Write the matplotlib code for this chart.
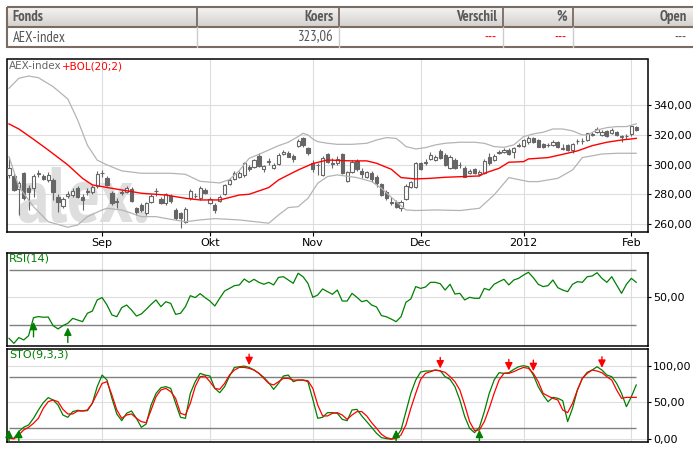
import numpy as np
import pandas as pd
import matplotlib
matplotlib.use('Agg')
import matplotlib.pyplot as plt
from matplotlib.patches import Rectangle
from matplotlib.colors import LinearSegmentedColormap

plt.rcParams['font.family'] = ['DejaVu Sans']

# ---- data (5 Aug 2011 - 2 Feb 2012) ----
opens = [293.1, 292.6, 283.7, 294.2, 284.6, 284.6, 294.0, 292.6, 289.7, 289.7,
         278.5, 272.5, 279.0, 279.7, 284.6, 278.5, 281.5, 281.9, 285.7, 294.2,
         291.3, 280.8, 275.5, 280.8, 281.9, 283.5, 270.7, 273.0, 267.4, 275.2,
         282.1, 276.7, 274.1, 279.2, 269.6, 267.4, 261.8, 277.4, 278.8, 277.4,
         283.0, 274.5, 273.0, 275.6, 280.1, 286.8, 290.4, 292.0, 293.1, 298.6,
         298.6, 306.0, 296.9, 301.8, 297.5, 300.2, 307.1, 307.8, 305.8, 312.5,
         317.6, 311.4, 301.3, 299.6, 293.1, 306.9, 300.7, 300.9, 306.9, 289.3,
         295.3, 302.5, 295.7, 292.0, 294.2, 292.0, 286.8, 281.9, 274.2, 275.2,
         271.2, 276.8, 284.8, 285.2, 300.9, 301.3, 303.6, 303.1, 309.2, 306.5,
         297.5, 303.1, 299.6, 297.5, 294.2, 296.9, 293.5, 294.2, 305.4, 303.1,
         308.0, 308.7, 309.8, 308.3, 312.5, 312.7, 315.0, 317.6, 316.5, 313.6,
         313.0, 313.2, 315.4, 310.7, 313.2, 309.8, 315.6, 315.6, 316.5, 320.1,
         321.7, 319.9, 322.6, 321.0, 322.1, 318.6, 319.0, 320.3, 325.5]
highs = [305.4, 294.5, 289.0, 295.0, 286.0, 293.5, 296.4, 293.5, 295.3, 291.0,
         280.0, 278.5, 282.0, 284.0, 285.5, 280.0, 284.0, 286.5, 296.0, 296.4,
         292.5, 282.0, 277.4, 283.0, 285.5, 285.0, 271.8, 274.5, 275.0, 280.5,
         284.6, 278.0, 281.0, 280.5, 271.0, 268.5, 271.5, 283.5, 281.0, 285.5,
         284.0, 278.0, 274.0, 279.5, 287.0, 291.0, 295.5, 295.5, 302.0, 299.5,
         304.0, 307.5, 300.0, 304.2, 301.0, 307.5, 310.0, 309.0, 307.0, 317.0,
         318.5, 312.0, 303.0, 300.9, 305.5, 307.5, 304.2, 305.5, 307.5, 296.0,
         303.0, 303.5, 297.5, 296.0, 295.5, 293.0, 288.0, 283.0, 278.5, 276.5,
         276.5, 287.0, 289.0, 302.0, 302.0, 303.5, 308.5, 306.5, 310.5, 308.0,
         306.5, 304.5, 301.5, 299.0, 297.0, 298.0, 296.5, 303.5, 307.5, 307.0,
         309.5, 311.0, 311.0, 312.0, 314.5, 317.5, 319.5, 318.5, 317.5, 314.5,
         314.5, 316.5, 316.0, 313.5, 314.0, 314.5, 317.5, 318.0, 321.5, 322.0,
         325.0, 323.0, 323.5, 324.5, 322.5, 320.0, 320.5, 326.5, 326.0]
lows = [290.8, 282.0, 266.0, 276.0, 269.6, 278.5, 292.0, 289.5, 288.5, 276.3,
        268.5, 271.0, 277.5, 278.5, 277.5, 269.6, 279.5, 280.5, 284.5, 292.0,
        285.5, 273.0, 270.7, 279.5, 281.0, 275.0, 266.2, 268.5, 266.5, 274.5,
        279.2, 273.5, 273.0, 274.5, 263.0, 257.3, 261.0, 276.5, 277.5, 276.5,
        280.0, 273.5, 267.4, 275.0, 279.5, 286.0, 289.5, 291.0, 292.0, 296.0,
        298.0, 298.5, 295.3, 299.8, 297.0, 299.5, 306.5, 305.0, 301.5, 311.5,
        311.5, 306.5, 295.0, 293.1, 292.5, 301.0, 297.5, 300.0, 293.5, 288.5,
        294.5, 296.0, 291.0, 291.0, 288.5, 285.0, 279.0, 276.5, 273.0, 271.0,
        268.9, 276.0, 284.0, 284.5, 296.5, 300.0, 303.0, 302.5, 303.5, 299.0,
        297.0, 297.0, 298.0, 291.5, 293.5, 293.5, 292.5, 293.5, 300.0, 302.5,
        307.0, 308.0, 306.5, 304.5, 311.5, 312.0, 314.0, 314.5, 311.5, 311.0,
        312.0, 312.5, 311.0, 310.0, 309.0, 307.5, 314.0, 314.0, 316.0, 319.0,
        321.0, 319.5, 318.5, 320.5, 319.5, 315.4, 317.5, 319.5, 322.5]
closes = [297.5, 283.0, 287.5, 277.4, 281.9, 292.4, 294.4, 290.4, 293.1, 281.9,
          274.7, 277.0, 280.1, 282.3, 278.5, 276.3, 282.0, 285.2, 293.7, 294.6,
          286.4, 274.1, 275.0, 281.9, 284.1, 275.6, 268.5, 269.6, 274.1, 279.2,
          282.5, 274.5, 280.1, 275.6, 264.0, 264.0, 270.3, 282.3, 279.2, 284.1,
          280.8, 276.7, 269.6, 278.5, 286.4, 289.7, 294.2, 294.2, 300.9, 297.1,
          303.1, 299.3, 299.1, 302.2, 299.8, 306.5, 308.7, 305.4, 303.8, 315.9,
          313.2, 307.6, 296.9, 300.0, 304.7, 302.0, 301.1, 303.8, 294.2, 294.9,
          302.0, 297.1, 293.5, 294.9, 290.4, 287.5, 279.7, 277.4, 274.6, 271.8,
          275.2, 285.7, 288.1, 300.9, 297.1, 301.7, 306.5, 305.4, 304.2, 299.8,
          305.4, 297.5, 300.0, 292.0, 295.7, 294.2, 295.3, 302.5, 300.9, 306.0,
          308.4, 309.8, 306.9, 310.9, 312.9, 316.5, 318.1, 315.0, 312.1, 312.1,
          313.4, 315.4, 312.1, 311.1, 309.8, 313.6, 316.0, 316.0, 321.0, 320.5,
          323.9, 322.1, 319.2, 323.2, 319.9, 319.0, 319.4, 325.9, 323.06]

# Bollinger(20;2) lines, read at the days where they could be read
bol_mid_days = [0, 2, 5, 8, 12, 15, 17, 21, 25, 27, 32, 36, 39, 43, 47, 49, 53, 55,
                57, 59, 62, 65, 68, 70, 73, 75, 78, 80, 83, 86, 89, 93, 96, 97, 100,
                102, 105, 106, 110, 113, 116, 119, 122, 125, 128]
bol_mid = [327.3, 323.9, 317.0, 309.8, 299.8, 290.8, 286.4, 284.1, 281.9, 280.8,
           279.6, 277.4, 276.3, 276.3, 279.6, 280.1, 284.6, 289.7, 293.1, 296.4,
           300.7, 303.1, 302.7, 302.5, 302.5, 300.9, 296.9, 291.3, 290.4, 290.8,
           291.5, 292.0, 292.4, 294.2, 297.5, 301.6, 302.0, 303.8, 304.7, 306.9,
           309.2, 312.7, 315.0, 316.5, 317.6]
bol_up_days = [0, 2, 4, 6, 9, 12, 14, 16, 18, 20, 23, 27, 33, 36, 39, 43, 45, 47, 49,
               51, 53, 55, 57, 59, 60, 61, 62, 63, 65, 67, 70, 73, 75, 77, 79, 80, 81,
               83, 85, 87, 89, 92, 95, 97, 99, 101, 103, 104, 105, 107, 109, 111, 113,
               115, 117, 118, 120, 122, 124, 126, 128]
bol_up = [351.2, 357.9, 359.4, 358.3, 352.3, 344.0, 330.0, 313.0, 303.0, 299.8,
          295.8, 294.2, 294.2, 293.5, 288.8, 287.7, 290.0, 296.0, 304.2, 306.9,
          309.8, 312.7, 315.0, 318.8, 321.0, 319.9, 317.2, 315.4, 314.3, 313.6,
          313.6, 314.3, 316.5, 318.1, 317.6, 315.0, 312.1, 310.5, 311.4, 313.2,
          314.3, 315.0, 315.0, 314.3, 312.1, 311.6, 313.2, 315.9, 318.8, 320.6,
          321.7, 323.9, 323.9, 322.6, 319.9, 319.9, 323.2, 324.8, 325.5, 325.5,
          327.3]
bol_low_days = [0, 2, 5, 8, 12, 14, 16, 19, 20, 23, 25, 27, 30, 33, 36, 39, 42, 47,
                50, 53, 55, 57, 59, 61, 63, 65, 67, 71, 74, 76, 79, 81, 83, 87, 92,
                96, 99, 102, 106, 108, 112, 115, 117, 121, 124, 128]
bol_low = [305.3, 285.2, 271.8, 261.7, 258.0, 259.5, 265.1, 269.6, 270.7, 269.6,
           267.4, 265.1, 265.1, 263.3, 261.7, 262.9, 263.8, 262.9, 261.8, 260.7,
           266.2, 271.2, 271.8, 277.4, 287.5, 292.0, 293.1, 291.3, 288.6, 284.1,
           275.2, 269.6, 269.2, 269.6, 269.2, 270.7, 279.7, 291.3, 288.6, 288.6,
           290.8, 296.4, 304.7, 307.1, 307.6, 307.6]

rsi = [20.2, 16.5, 20.7, 19.0, 22.1, 35.2, 36.0, 35.5, 35.7, 29.4,
       27.0, 29.4, 31.1, 34.7, 33.5, 32.3, 38.4, 40.0, 48.1, 49.8,
       44.4, 37.2, 35.9, 42.5, 44.4, 40.8, 36.4, 37.9, 41.3, 44.9,
       48.1, 43.2, 46.8, 45.6, 37.6, 38.4, 43.2, 51.2, 49.8, 52.7,
       49.8, 47.3, 43.7, 49.3, 54.6, 56.5, 58.5, 59.0, 63.3, 60.9,
       63.1, 60.9, 59.5, 60.9, 59.0, 64.5, 65.0, 62.6, 60.2, 67.5,
       65.0, 60.2, 50.0, 51.7, 56.1, 54.1, 52.2, 55.3, 47.3, 47.3,
       52.9, 50.0, 46.8, 47.8, 44.4, 43.0, 36.7, 35.9, 34.2, 32.3,
       35.9, 46.4, 48.8, 57.8, 56.5, 57.5, 60.9, 60.9, 59.9, 55.3,
       59.5, 52.4, 52.9, 48.1, 50.0, 49.3, 49.3, 56.5, 55.3, 59.5,
       61.4, 63.1, 59.0, 62.6, 63.8, 66.2, 68.2, 64.3, 59.5, 57.8,
       58.5, 62.6, 57.0, 55.3, 54.1, 59.5, 61.4, 60.9, 65.0, 65.5,
       67.9, 63.8, 60.9, 65.0, 59.0, 52.9, 59.5, 63.8, 60.9]

sto_k = [1.4, 1.4, 10.4, 16.3, 19.5, 28.5, 39.8, 49.8, 56.6, 53.4,
         46.6, 33.0, 29.9, 37.6, 39.4, 38.5, 38.9, 48.9, 71.5, 87.3,
         80.5, 55.7, 34.4, 25.3, 35.3, 38.5, 28.5, 16.3, 20.8, 46.6,
         62.4, 70.1, 71.5, 69.2, 48.9, 29.9, 28.5, 62.4, 78.3, 89.6,
         87.3, 86.0, 69.2, 63.3, 71.5, 86.0, 97.7, 98.6, 99.5, 97.7,
         94.1, 89.6, 84.2, 76.9, 67.9, 76.0, 86.0, 87.3, 78.3, 80.5,
         80.5, 78.3, 54.3, 28.5, 29.9, 36.2, 36.2, 35.3, 27.1, 25.3,
         39.8, 40.7, 31.7, 24.0, 16.3, 8.1, 2.3, 0.9, 0.0, 2.7,
         12.7, 37.6, 62.4, 80.5, 91.4, 92.8, 92.8, 94.1, 93.2, 85.1,
         81.4, 71.5, 53.4, 30.8, 14.9, 9.0, 16.3, 37.6, 62.4, 80.5,
         90.5, 89.6, 90.5, 95.0, 98.6, 100.0, 98.6, 87.3, 71.5, 60.2,
         51.1, 57.0, 55.7, 52.5, 24.0, 42.1, 67.0, 82.8, 91.0, 94.1,
         98.6, 94.1, 87.3, 85.1, 76.0, 62.4, 44.3, 57.9, 73.8]
sto_d = [1.4, 0.5, 5.9, 12.7, 16.3, 21.7, 28.5, 42.1, 51.1, 53.4,
         51.1, 40.7, 34.4, 34.4, 38.5, 38.5, 39.8, 48.9, 62.4, 76.0,
         78.3, 60.2, 39.8, 28.5, 33.0, 34.4, 28.5, 24.0, 22.6, 39.8,
         57.9, 67.0, 69.2, 64.7, 55.7, 35.3, 33.0, 48.9, 71.5, 85.1,
         86.0, 78.3, 69.2, 67.9, 76.0, 87.3, 94.1, 97.7, 97.7, 96.4,
         94.1, 89.6, 82.8, 76.0, 73.8, 78.3, 82.8, 82.8, 80.5, 80.5,
         80.5, 79.6, 69.2, 46.6, 31.7, 31.7, 35.3, 36.2, 33.0, 27.1,
         33.0, 37.6, 37.6, 31.7, 22.6, 14.9, 6.8, 2.3, 0.5, 0.9,
         5.9, 19.5, 42.1, 62.4, 81.4, 89.6, 91.9, 94.1, 92.8, 91.0,
         85.1, 78.3, 67.0, 46.6, 24.0, 11.8, 12.7, 24.0, 42.1, 62.4,
         80.5, 89.6, 89.6, 91.9, 95.0, 97.7, 96.4, 89.6, 78.3, 62.4,
         58.8, 55.7, 53.4, 39.8, 36.2, 48.9, 67.0, 82.8, 89.6, 94.1,
         92.8, 90.5, 85.1, 80.5, 67.0, 55.7, 57.0, 57.0, 57.0]

rsi_buy = [5, 12]
sto_sell = [49, 88, 102, 107, 121]
sto_buy = [0, 2, 79, 96]

month_labels = ['Sep', 'Okt', 'Nov', 'Dec', '2012', 'Feb']
price_ticks = [260, 280, 300, 320, 340]
RSI_HIGH, RSI_LOW = 70, 30
STO_HIGH, STO_LOW = 85, 15

table_head = ['Fonds', 'Koers', 'Verschil', '%', 'Open']
table_row = ['AEX-index', '323,06', '---', '---', '---']

# trading days (Euronext closed on 26 Dec 2011)
dates = pd.bdate_range('2011-08-05', '2012-02-02')
dates = dates[dates != pd.Timestamp('2011-12-26')]
x = np.arange(len(dates))
month_pos = [i for i in range(1, len(dates)) if dates[i].month != dates[i - 1].month]

W, H = 693, 451
GREEN, RED, CANDLE = '#008000', '#ff0000', '#666666'
NARROW = ['PT Sans Narrow', 'DejaVu Sans']


def px_box(x0, y0, x1, y1):
    return [x0 / W, 1 - y1 / H, (x1 - x0) / W, (y1 - y0) / H]


def fmt(v):
    return f'{v:.2f}'.replace('.', ',')


def style_panel(ax, ylim, yticks, show_months=False):
    ax.set_xlim(-0.41, 130.4)
    ax.set_ylim(*ylim)
    ax.yaxis.tick_right()
    ax.set_yticks(yticks)
    ax.set_yticklabels([fmt(v) for v in yticks], fontsize=8)
    ax.set_xticks(month_pos)
    ax.grid(True, color='#dddddd', lw=0.8)
    ax.set_axisbelow(True)
    for s in ax.spines.values():
        s.set_linewidth(1.1)
    ax.tick_params(axis='y', length=2, pad=1.5)
    if show_months:
        ax.set_xticklabels(month_labels, fontsize=8)
        ax.tick_params(axis='x', length=3, pad=1.5)
    else:
        ax.tick_params(axis='x', length=0, labelbottom=False)


fig = plt.figure(figsize=(W / 100, H / 100), dpi=100)

# ---- table on top ----
tab = fig.add_axes([0, 0, 1, 1], zorder=-1)
tab.axis('off')
grad = np.linspace(0, 1, 30).reshape(-1, 1)
cmap = LinearSegmentedColormap.from_list('head', ['#f4f4f4', '#d4d0cc'])
tab.imshow(grad, extent=(6.7, 700, 26.7, 6.7), aspect='auto', cmap=cmap)
tab.set_xlim(0, W)
tab.set_ylim(H, 0)
border = '#7a6b63'
tab.add_patch(Rectangle((6.7, 6.7), 700, 40.6, fill=False, edgecolor=border, lw=1.5))
tab.plot([6.7, 700], [26.7, 26.7], color=border, lw=1.5)
col_edges = [6.7, 197, 339.3, 503, 573, 693]
for xe in col_edges[1:-1]:
    tab.plot([xe, xe], [6.7, 26.7], color=border, lw=1.3)
    tab.plot([xe, xe], [26.7, 47.3], color='#cccccc', lw=1.0)
for k, (hd, val) in enumerate(zip(table_head, table_row)):
    if k == 0:
        xt, ha = col_edges[0] + 6, 'left'
    else:
        xt, ha = col_edges[k + 1] - 6, 'right'
    tab.text(xt, 17, hd, ha=ha, va='center', fontsize=10.5, fontweight='bold',
             color='#5a5a5a', family=NARROW)
    vcol = RED if k in (2, 3) else '#555555'
    tab.text(xt, 37.5, val, ha=ha, va='center', fontsize=10.5, color=vcol, family=NARROW)

# ---- price panel with candles and Bollinger bands ----
ax = fig.add_axes(px_box(7, 59.5, 648, 232))
style_panel(ax, (254.8, 370.5), price_ticks, show_months=True)
o, h, l, c = map(np.array, (opens, highs, lows, closes))
up = c >= o
ax.text(1.6, 261.5, 'alex.', fontsize=56, fontweight='bold', color='#dedede',
        family=NARROW, va='baseline', zorder=0.2)
ax.vlines(x, l, h, color=CANDLE, lw=0.8, zorder=2)
ax.bar(x, np.maximum(np.abs(c - o), 0.35), bottom=np.minimum(o, c), width=0.66,
       color=np.where(up, 'white', CANDLE), edgecolor=CANDLE, linewidth=0.8, zorder=3)
ax.plot(bol_up_days, bol_up, color='#b4b4b4', lw=0.9, zorder=4)
ax.plot(bol_low_days, bol_low, color='#b4b4b4', lw=0.9, zorder=4)
ax.plot(bol_mid_days, bol_mid, color=RED, lw=1.0, zorder=5)
t = ax.text(0.003, 0.99, 'AEX-index', transform=ax.transAxes, va='top', ha='left',
            fontsize=7.5, color='#666666')
ax.annotate('+BOL(20;2)', xy=(1, 0), xycoords=t, va='bottom', ha='left',
            fontsize=7.5, color=RED)

# ---- RSI panel ----
ax2 = fig.add_axes(px_box(7, 252.5, 648, 346))
style_panel(ax2, (14.6, 82.6), [50])
ax2.hlines([RSI_HIGH, RSI_LOW], x[0], x[-1], color='#808080', lw=1.0)
ax2.plot(x, rsi, color=GREEN, lw=0.9)
ax2.text(0.003, 0.99, 'RSI(14)', transform=ax2.transAxes, va='top', ha='left',
         fontsize=8, color=GREEN)
head = '-|>,head_width=0.22,head_length=0.45'
for i in rsi_buy:
    ax2.annotate('', xy=(i, rsi[i] - 3), xytext=(i, rsi[i] - 14),
                 arrowprops=dict(arrowstyle=head, color=GREEN, lw=1,
                                 shrinkA=0, shrinkB=0))

# ---- Stochastic panel ----
ax3 = fig.add_axes(px_box(7, 348.5, 648, 441.7))
style_panel(ax3, (-3.3, 123.4), [0, 50, 100])
ax3.hlines([STO_HIGH, STO_LOW], x[0], x[-1], color='#808080', lw=1.0)
ax3.plot(x, sto_k, color=GREEN, lw=0.9)
ax3.plot(x, sto_d, color=RED, lw=0.9)
ax3.text(0.003, 0.99, 'STO(9,3,3)', transform=ax3.transAxes, va='top', ha='left',
         fontsize=8, color=GREEN)
for i in sto_sell:
    tip = max(sto_k[i], sto_d[i]) + 3
    ax3.annotate('', xy=(i, tip), xytext=(i, tip + 15),
                 arrowprops=dict(arrowstyle=head, color=RED, lw=1,
                                 shrinkA=0, shrinkB=0))
for i in sto_buy:
    ax3.annotate('', xy=(i, STO_LOW - 2), xytext=(i, -3.3),
                 arrowprops=dict(arrowstyle=head, color=GREEN, lw=1,
                                 shrinkA=0, shrinkB=0))

fig.savefig('out.png', dpi=100)
